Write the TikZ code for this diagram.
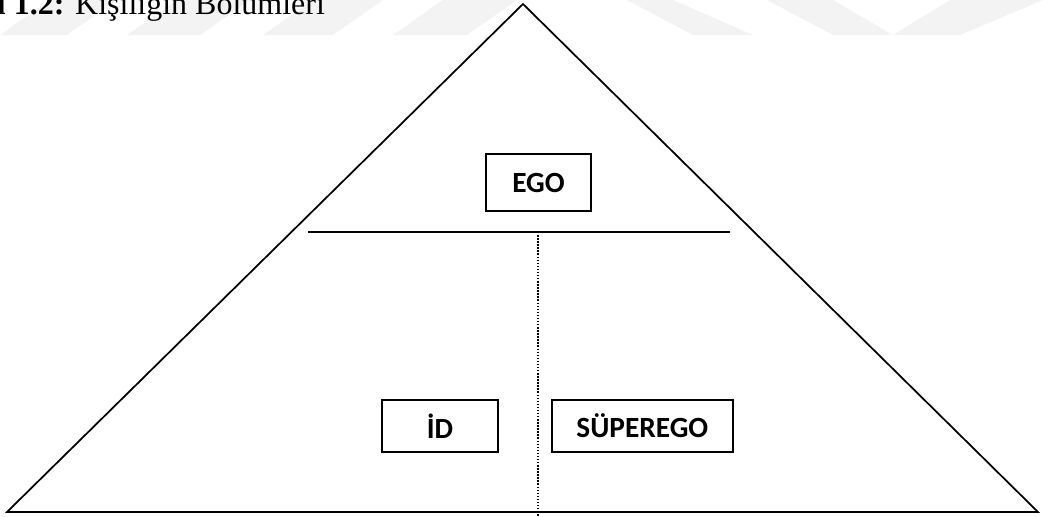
\documentclass[tikz,border=0pt]{standalone}
\usepackage{fontspec}
\setmainfont{Liberation Serif}
\newfontfamily\boxfont{Carlito}
\usepackage{tikz}
\usetikzlibrary{positioning, calc}
\definecolor{markgray}{RGB}{243, 243, 243}

\begin{document}
\begin{tikzpicture}[
    x=0.75pt, y=-0.75pt,
    part/.style={rectangle, draw=black, line width=1.4pt, inner sep=0pt, text centered, font=\boxfont\bfseries\fontsize{22}{26}\selectfont},
    edge/.style={line width=1.3pt, line join=miter},
    split/.style={line width=1.5pt},
    sep/.style={line width=1.1pt, dash pattern=on 1.1pt off 1.2pt},
    mark/.style={fill=markgray, draw=none}
]
    \useasboundingbox (0,0) rectangle (1043,517);
    \clip (0,0) rectangle (1043,517);

    % faint watermark bands
    \fill[markgray] (0,35) -- (67,35) -- (117,0) -- (50,0) -- cycle;
    \fill[markgray] (127,35) -- (200,35) -- (250,0) -- (177,0) -- cycle;
    \fill[markgray] (263,35) -- (333,35) -- (383,0) -- (313,0) -- cycle;
    \fill[markgray] (393,35) -- (467,35) -- (517,0) -- (443,0) -- cycle;
    \fill[markgray] (627,0) -- (673,0) -- (753,35) -- (693,35) -- cycle;
    \fill[markgray] (767,0) -- (833,0) -- (893,35) -- (833,35) -- cycle;
    \fill[markgray] (950,0) -- (1043,0) -- (960,35) -- (893,35) -- cycle;

    % caption
    \node[anchor=base west, inner sep=0pt, font=\fontsize{24}{28}\selectfont] (caption) at (-62,15) {\textbf{Şekil 1.2:} Kişiliğin Bölümleri};

    % pyramid
    \coordinate (apex) at (523,4);
    \coordinate (left) at (7,512);
    \coordinate (right) at (1038,512);
    \draw[edge] (left) -- (apex) -- (right) -- cycle;

    \coordinate (splitL) at (308,232);
    \coordinate (splitR) at (730,232);
    \coordinate (sepTop) at (538,232);
    \coordinate (sepBot) at (538,517);
    \draw[split] (splitL) -- (splitR);
    \draw[sep] (sepTop) -- (sepBot);

    \node[part, minimum width=78.75pt, minimum height=42.75pt] (ego) at (538.5,182.5) {EGO};
    \node[part, minimum width=87pt, minimum height=39pt] (id) at (440,426) {İD};
    \node[part, minimum width=135.75pt, minimum height=39pt, right=39pt of id] (superego) {SÜPEREGO};

\end{tikzpicture}
\end{document}
